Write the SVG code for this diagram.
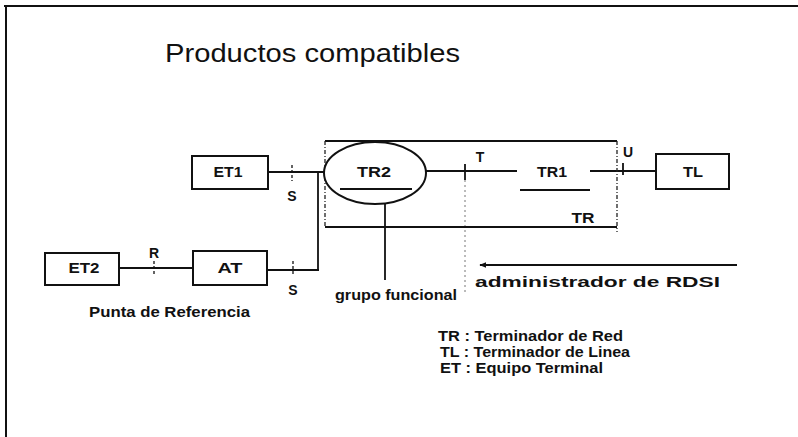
<svg xmlns="http://www.w3.org/2000/svg" width="798" height="437" viewBox="0 0 798 437">
<defs>
<style>
text{font-family:"Liberation Sans",Arial,sans-serif;fill:#111}
.lb{font-size:14px;font-weight:bold;text-anchor:middle}
.tx{font-size:14px;font-weight:bold}
.box{fill:#fff;stroke:#111;stroke-width:2}
.ln{stroke:#111;stroke-width:1.8;fill:none}
.tick{stroke:#111;stroke-width:1.3;stroke-dasharray:3 2;fill:none}
.dash{stroke:#222;stroke-width:1.3;stroke-dasharray:4 2 1 2;fill:none}
.dot{stroke:#777;stroke-width:1;stroke-dasharray:2 3;fill:none}
</style>
<marker id="ah" viewBox="0 0 10 10" refX="9" refY="5" markerWidth="4" markerHeight="4" orient="auto-start-reverse">
<path d="M0,1 L10,5 L0,9 z" fill="#111"/>
</marker>
</defs>
<rect width="798" height="437" fill="#fff"/>
<g id="frame">
<line x1="4" y1="6" x2="798" y2="6" stroke="#111" stroke-width="2"/>
<line x1="6" y1="5" x2="6" y2="437" stroke="#111" stroke-width="2"/>
</g>
<text x="165" y="62" font-size="26" textLength="295" lengthAdjust="spacingAndGlyphs">Productos compatibles</text>

<g id="connectors">
<line class="ln" x1="268" y1="172" x2="324" y2="172"/>
<line class="ln" x1="318" y1="172" x2="318" y2="270"/>
<line class="ln" x1="267" y1="270" x2="319" y2="270"/>
<line class="ln" x1="119" y1="268" x2="193" y2="268"/>
<line class="ln" x1="426" y1="171" x2="517" y2="171"/>
<line class="ln" x1="590" y1="171" x2="657" y2="171"/>
<line class="ln" x1="385" y1="204" x2="385" y2="280"/>
<line class="ln" x1="737" y1="265" x2="480" y2="265" stroke-width="2.2" marker-end="url(#ah)"/>
<line class="tick" x1="292" y1="165" x2="292" y2="181"/>
<line class="tick" x1="293" y1="261" x2="293" y2="276"/>
<line class="tick" x1="154" y1="261" x2="154" y2="276"/>
<line class="ln" x1="465" y1="164" x2="465" y2="180" stroke-width="1.3"/>
<line class="dot" x1="465" y1="180" x2="465" y2="292"/>
<line class="ln" x1="623" y1="163" x2="623" y2="175" stroke-width="1.3"/>
<text class="lb" x="292" y="201">S</text>
<text class="lb" x="293" y="295">S</text>
<text class="lb" x="154" y="258">R</text>
<text class="lb" x="480" y="162">T</text>
<text class="tx" x="623" y="157">U</text>
</g>

<g id="ET1">
<rect class="box" x="192" y="156" width="76" height="33"/>
<text class="lb" x="228" y="177" textLength="29" lengthAdjust="spacingAndGlyphs">ET1</text>
</g>
<g id="ET2">
<rect class="box" x="45" y="253" width="74" height="32"/>
<text class="lb" x="84" y="273" textLength="31" lengthAdjust="spacingAndGlyphs">ET2</text>
</g>
<g id="AT">
<rect class="box" x="193" y="251" width="74" height="34"/>
<text class="lb" x="230" y="273" textLength="25" lengthAdjust="spacingAndGlyphs">AT</text>
</g>
<g id="TR">
<line class="ln" x1="325" y1="141" x2="617" y2="141" stroke-width="1.5"/>
<line class="ln" x1="325" y1="227" x2="617" y2="227" stroke-width="2"/>
<line class="dash" x1="325" y1="141" x2="325" y2="227"/>
<line class="dash" x1="617" y1="141" x2="617" y2="232"/>
<text class="lb" x="583" y="223" textLength="23" lengthAdjust="spacingAndGlyphs">TR</text>
</g>
<g id="TR2">
<ellipse cx="375" cy="173" rx="51" ry="31" fill="#fff" stroke="#111" stroke-width="2"/>
<line class="ln" x1="340" y1="189" x2="412" y2="189"/>
<text class="lb" x="374" y="177" textLength="34" lengthAdjust="spacingAndGlyphs">TR2</text>
</g>
<g id="TR1">
<line class="ln" x1="520" y1="190" x2="590" y2="190"/>
<text class="lb" x="552" y="177" textLength="30" lengthAdjust="spacingAndGlyphs">TR1</text>
</g>
<g id="TL">
<rect class="box" x="656" y="154" width="73" height="35"/>
<text class="lb" x="693" y="177" textLength="20" lengthAdjust="spacingAndGlyphs">TL</text>
</g>

<g id="labels">
<text class="tx" x="89" y="317" textLength="161" lengthAdjust="spacingAndGlyphs">Punta de Referencia</text>
<text class="tx" x="335" y="300" textLength="122" lengthAdjust="spacingAndGlyphs">grupo funcional</text>
<text class="tx" x="475" y="287" textLength="245" lengthAdjust="spacingAndGlyphs">administrador de RDSI</text>
<text class="tx" x="438" y="341" textLength="185" lengthAdjust="spacingAndGlyphs">TR : Terminador de Red</text>
<text class="tx" x="440" y="357" textLength="190" lengthAdjust="spacingAndGlyphs">TL : Terminador de Linea</text>
<text class="tx" x="440" y="373" textLength="163" lengthAdjust="spacingAndGlyphs">ET : Equipo Terminal</text>
</g>
</svg>
